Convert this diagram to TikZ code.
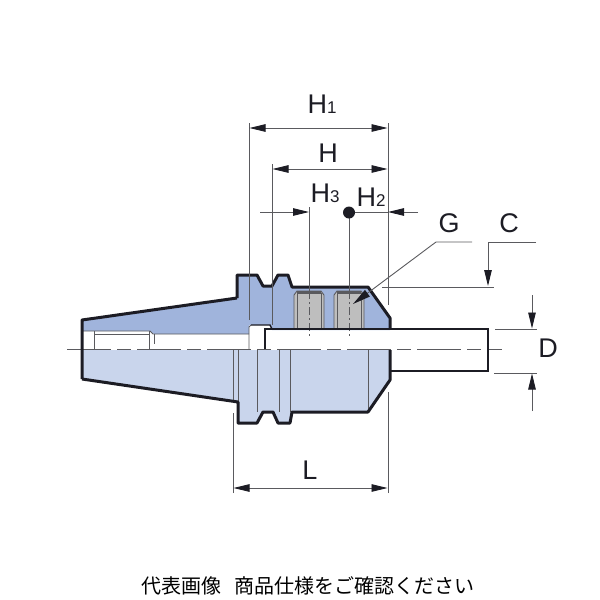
\documentclass[tikz,border=0pt]{standalone}
\usepackage{fontspec}
\usepackage{xcolor}
\usepackage{tikz}
\usetikzlibrary{arrows.meta}
\setmainfont{Liberation Sans}
\newfontfamily\cjkfont{Noto Sans CJK JP}
\definecolor{holderdark}{HTML}{A0B4DC}
\definecolor{holderlight}{HTML}{C9D5EC}
\definecolor{screwgray}{HTML}{BEBEBE}
\definecolor{inkdark}{HTML}{1C1C24}
\definecolor{inkgray}{HTML}{5A5A5E}
\newcommand{\bigsize}{\fontsize{27}{27}\selectfont}
\newcommand{\subsize}{\fontsize{17}{17}\selectfont}
\tikzset{
  outline/.style={line width=3pt, color=inkdark, line join=round},
  thinline/.style={line width=0.9pt, color=inkgray},
  dimline/.style={line width=0.9pt, color=inkgray},
  dimarrow/.style={dimline, -{Triangle[length=16pt, width=7.5pt, color=inkdark]}},
  dimboth/.style={dimline, {Triangle[length=16pt, width=7.5pt, color=inkdark]}-{Triangle[length=16pt, width=7.5pt, color=inkdark]}},
  letter/.style={inner sep=0pt, text=inkdark, font=\bigsize},
}

\begin{document}
\begin{tikzpicture}[x=1pt, y=-1pt]
  \useasboundingbox (0,0) rectangle (600,600);

  % body fills
  \fill[holderdark] (82,320) -- (237,298) -- (237,275) -- (257,275) -- (263,286) -- (272,286)
    -- (278,275) -- (288,275) -- (292,287) -- (368,287) -- (390,318) -- (390,330)
    -- (272,330) -- (271,325) -- (249,325) -- (249,334) -- (154,334) -- (150,331) -- (82,331) -- cycle;
  \fill[holderlight] (82,350) -- (390,350) -- (390,380) -- (368,412) -- (292,412) -- (290,423)
    -- (278,423) -- (273,412) -- (263,412) -- (257,423) -- (238,423) -- (238,402) -- (82,379) -- cycle;

  % screws
  \foreach \x in {294, 334} {
    \fill[screwgray] (\x,329) -- ++(0,-34) -- ++(3,-4) -- ++(24,0) -- ++(3,4) -- ++(0,34) -- cycle;
    \fill[inkgray] (\x+3,291) rectangle ++(24,2.5);
    \draw[thinline] (\x,329) -- ++(0,-34) -- ++(3,-4) -- ++(24,0) -- ++(3,4) -- ++(0,34);
    \draw[thinline] (\x+3.5,329) -- ++(0,-36) (\x+27,329) -- ++(0,-36);
  }

  % bore and section lines
  \draw[thinline] (82,331) -- (150,331) -- (153,334) -- (249,334);
  \draw[thinline] (95,334) -- (149,334);
  \foreach \x in {94, 149}
    \draw[thinline] (\x,331) -- (\x,349);
  \draw[thinline] (154,334) -- (154,344);
  \draw[thinline] (249,349) -- (249,327) -- (251,325);
  \draw[inkdark, line width=1.4pt] (251,325) -- (270,325) -- (272,329);
  \foreach \x/\y in {233/400, 238/402, 257/412, 279/412, 290/412, 368/410}
    \draw[thinline] (\x,350) -- (\x,\y);

  % axis
  \draw[thinline, dash pattern=on 44pt off 6pt on 14pt off 6pt] (67,349.5) -- (502,349.5);
  \foreach \x in {309, 349}
    \draw[thinline, dash pattern=on 8pt off 3pt on 2pt off 3pt] (\x,291) -- (\x,337);

  % outline
  \draw[outline] (237,298) -- (237,275) -- (257,275) -- (263,286) -- (272,286) -- (278,275)
    -- (288,275) -- (292,287) -- (368,287) -- (390,318) -- (390,329);
  \draw[outline] (82,379) -- (82,320) -- (237,298);
  \draw[outline] (390,350) -- (390,380) -- (368,412) -- (292,412) -- (290,423) -- (278,423)
    -- (273,412) -- (263,412) -- (257,423) -- (238,423) -- (238,402) -- (82,379);
  \draw[inkdark, line width=1.7pt] (265,349) -- (265,329) -- (488,329) -- (488,371) -- (390,371);

  % extension lines
  \coordinate (h1left) at (249,123);
  \coordinate (h1right) at (388,123);
  \coordinate (hleft) at (272,164);
  \coordinate (hthree) at (309,207);
  \coordinate (htwo) at (349,213);
  \coordinate (lleft) at (233,493);
  \coordinate (lright) at (388,493);
  \draw[dimline] (h1left) -- (249,320);
  \draw[dimline] (hleft) -- (272,325);
  \draw[dimline] (hthree) -- (309,291);
  \draw[dimline] (htwo) -- (349,291);
  \draw[dimline] (h1right) -- (388,305);
  \draw[dimline] (lleft) -- (233,413);
  \draw[dimline] (lright) -- (388,392);

  % dimensions
  \draw[dimboth] (249.5,128) -- (387.5,128);
  \draw[dimboth] (272.5,169) -- (387.5,169);
  \draw[dimboth] (233.5,488) -- (387.5,488);
  \draw[dimarrow] (260,212) -- (309,212);
  \draw[dimarrow] (418,212) -- (388,212);
  \draw[dimline] (349,212) -- (388,212);
  \fill[inkdark] (htwo) ++(0,-0.5) circle (6pt);

  % leader G
  \coordinate (gend) at (472,242);
  \coordinate (gknee) at (436,242);
  \coordinate (gtip) at (353,304);
  \draw[dimline, -{Triangle[length=18pt, width=8pt, color=inkdark]}] (gend) -- (gknee) -- (gtip);

  % leader C
  \coordinate (cend) at (536,242);
  \coordinate (cknee) at (488,242);
  \coordinate (ctip) at (488,286);
  \draw[dimarrow] (cend) -- (cknee) -- (ctip);
  \draw[dimline] (382,287) -- (494,287);

  % D
  \draw[dimline] (495,329) -- (537,329);
  \draw[dimline] (494,373) -- (537,373);
  \coordinate (dtop) at (532,295);
  \coordinate (dbottom) at (532,411);
  \draw[dimarrow] (dtop) -- (532,328.5);
  \draw[dimarrow] (dbottom) -- (532,373.5);

  % labels
  \node[letter, anchor=base] (labelhone) at (322,113) {H\subsize 1};
  \node[letter] (labelh) at (328,153) {H};
  \node[letter, anchor=base] (labelhthree) at (325,202) {H\subsize 3};
  \node[letter, anchor=base] (labelhtwo) at (371,206) {H\subsize 2};
  \node[letter] (labelg) at (449,223) {G};
  \node[letter] (labelc) at (509,223) {C};
  \node[letter] (labeld) at (548,348) {D};
  \node[letter] (labell) at (310,470) {L};
  \node[inner sep=0pt, text=black, font=\cjkfont\fontsize{20}{20}\selectfont] (caption) at (308,586) {代表画像\hspace{0.7em}商品仕様をご確認ください};
\end{tikzpicture}
\end{document}
